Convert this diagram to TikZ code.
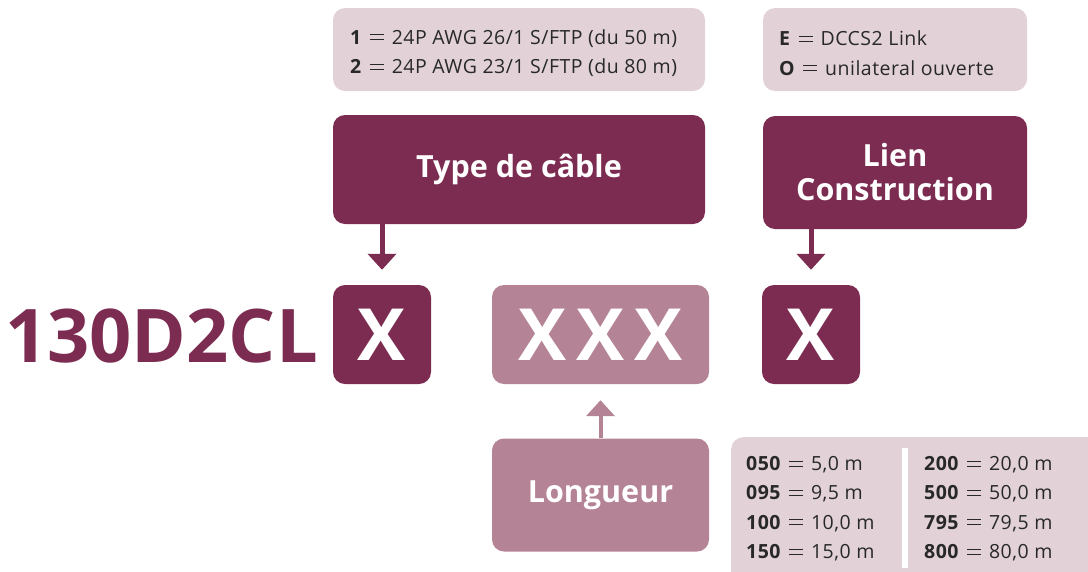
\documentclass[tikz,border=0pt]{standalone}
\usepackage{fontspec}
\setmainfont{Open Sans}
\usetikzlibrary{arrows.meta}
\definecolor{plum}{RGB}{125,44,81}
\definecolor{mauve}{RGB}{180,131,150}
\definecolor{blush}{RGB}{226,210,215}
\definecolor{ink}{RGB}{40,40,40}
\newcommand\eqsign{\hspace{8pt}\rlap{\rule[3.9pt]{14pt}{0.85pt}}\rule[9pt]{14pt}{0.85pt}\hspace{8pt}}

\begin{document}
\begin{tikzpicture}[
  x=1pt, y=-1pt,
  every node/.style={inner sep=0pt},
  darkbox/.style={fill=plum, rounded corners=12pt, text=white, align=center, font=\bfseries\fontsize{30.5}{34}\selectfont},
  midbox/.style={fill=mauve, rounded corners=12pt, text=white, align=center, font=\bfseries\fontsize{30.5}{34}\selectfont},
  notebox/.style={fill=blush, rounded corners=12pt},
  notetext/.style={text=ink, align=left, anchor=west, font=\fontsize{19.5}{29.5}\selectfont\addfontfeatures{LetterSpace=2.5}},
  bigx/.style={font=\bfseries\fontsize{72}{72}\selectfont},
  lentext/.style={text=ink, font=\fontsize{19.5}{29}\selectfont\addfontfeatures{LetterSpace=2.5}, anchor=base west},
  darrow/.style={line width=5pt, -{Triangle[width=28pt,length=16pt]}}
]
  \useasboundingbox (0,0) rectangle (1088,571);

  % Notes on top
  \node[notebox, minimum width=372pt, minimum height=83pt] (cablenote) at (519,49.5) {};
  \node[notetext] (cabletext) at (350,53)
    {\textbf{1}\eqsign 24P AWG 26/1 S/FTP (du 50 m)\\ \textbf{2}\eqsign 24P AWG 23/1 S/FTP (du 80 m)};
  \node[notebox, minimum width=264pt, minimum height=83pt] (liennote) at (895,49.5) {};
  \node[notetext] (lientext) at (779,53)
    {\textbf{E}\eqsign DCCS2 Link\\ \textbf{O}\eqsign unilateral ouverte};

  % Titles
  \node[darkbox, minimum width=372pt, minimum height=109pt] (cable) at (519,169.5) {Type de câble};
  \node[darkbox, minimum width=264pt, minimum height=113pt] (lien) at (895,172.5) {Lien\\Construction};

  % Part number
  \node[text=plum, anchor=base west, font=\bfseries\fontsize{74}{74}\selectfont] (prefix) at (5,362) {130D2CL};
  \node[darkbox, bigx, minimum width=98pt, minimum height=99pt] (xa) at (382,334.5) {X};
  \node[midbox, bigx, minimum width=217pt, minimum height=99pt] (xlen) at (600.5,334.5) {X\kern10pt X\kern10pt X};
  \node[darkbox, bigx, minimum width=98pt, minimum height=99pt] (xb) at (811,334.5) {X};

  % Length
  \node[midbox, minimum width=217pt, minimum height=113pt] (longueur) at (600.5,495) {Longueur};
  \node[notebox, anchor=north west, minimum width=380pt, minimum height=150pt] (lennote) at (731,437) {};
  \coordinate (septop) at (905,448);
  \coordinate (sepbot) at (905,568);
  \draw[white, line width=6pt] (septop) -- (sepbot);
  \foreach \code/\len [count=\i] in {050/{5,0}, 095/{9,5}, 100/{10,0}, 150/{15,0}}
    \node[lentext] (a\i) at (746, 441+29.4*\i) {\textbf{\code}\eqsign\len\ m};
  \foreach \code/\len [count=\i] in {200/{20,0}, 500/{50,0}, 795/{79,5}, 800/{80,0}}
    \node[lentext] (b\i) at (924, 441+29.4*\i) {\textbf{\code}\eqsign\len\ m};

  % Arrows
  \draw[darrow, plum, shorten >=15pt] (cable.south -| xa) -- (xa.north);
  \draw[darrow, plum, shorten >=15pt] (lien.south -| xb) -- (xb.north);
  \draw[darrow, mauve, line width=4pt, shorten >=16pt] (longueur.north) -- (xlen.south);
\end{tikzpicture}
\end{document}
